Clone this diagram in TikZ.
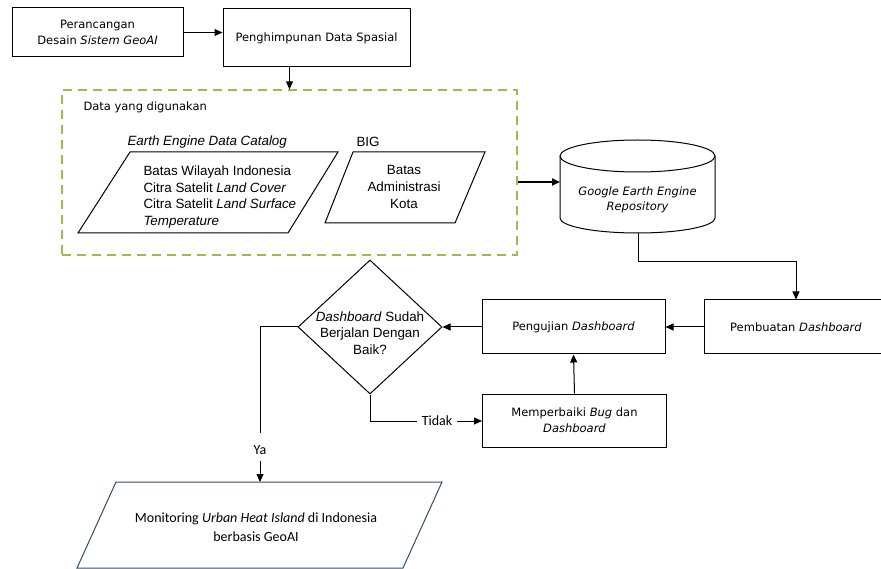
\documentclass[tikz,border=0pt]{standalone}
\usepackage{fontspec}
\setmainfont{DejaVu Sans}
\newfontfamily\arialf{Liberation Sans}
\newfontfamily\calf{Carlito}
\usetikzlibrary{arrows.meta,shapes.geometric,calc}
\definecolor{dgreen}{RGB}{150,190,80}
\definecolor{slateb}{RGB}{55,75,105}
\begin{document}
\begin{tikzpicture}[x=1pt,y=-1pt,line width=1pt,
  tah/.style={font=\fontsize{11.5}{15.5}\selectfont,align=center,inner sep=0pt},
  ari/.style={font=\arialf\fontsize{13.4}{16.7}\selectfont,inner sep=0pt},
  cal/.style={font=\calf\fontsize{14}{19}\selectfont,inner sep=0pt},
  procbox/.style={draw,minimum width=#1,inner sep=0pt,align=center,font=\fontsize{11.5}{16}\selectfont},
  arr/.style={-{Triangle[length=8pt,width=7pt]}}
]
\useasboundingbox (0,0) rectangle (881,569);

% top boxes
\node[procbox=171pt,minimum height=49pt] (b1) at (97.5,32.5) {Perancangan\\Desain \textit{Sistem GeoAI}};
\node[procbox=187pt,minimum height=58pt] (b2) at (316.5,38) {Penghimpunan Data Spasial};
\draw[arr] (b1.east) -- (b1.east -| b2.west);

% data area
\node[draw=dgreen,dash pattern=on 9pt off 6pt,line width=1.3pt,minimum width=455pt,minimum height=165pt,inner sep=0pt] (data) at (289.5,172.5) {};
\draw[arr] (b2.south -| data.north) -- (data.north);
\node[tah,anchor=west] (datalbl) at (83,107) {Data yang digunakan};

% parallelogram 1
\draw (130,152) -- (338,152) -- (288,233) -- (78,233) -- cycle;
\node[ari,anchor=west] (eelbl) at (127,142) {\itshape Earth Engine Data Catalog};
\node[ari,anchor=west,align=left] (p1) at (143,197) {Batas Wilayah Indonesia\\Citra Satelit \textit{Land Cover}\\Citra Satelit \textit{Land Surface}\\\textit{Temperature}};

% parallelogram 2
\draw (353,152) -- (485,152) -- (455,223) -- (325,223) -- cycle;
\node[ari,anchor=west] (biglbl) at (356,142) {BIG};
\node[ari,align=center] (p2) at (404,187) {Batas\\Administrasi\\Kota};

% cylinder
\draw (560,156) -- (560,218) arc[start angle=180,end angle=360,x radius=77.5pt,y radius=15pt] -- (715,156);
\draw (637.5,156) ellipse[x radius=77.5pt,y radius=16pt];
\node[tah] (gee) at (637.5,200) {\itshape Google Earth Engine\\\itshape Repository};
\coordinate (cylL) at (560,182);
\coordinate (cylB) at (638,233);
\draw[arr,line width=1.7pt] (data.east |- cylL) -- (cylL);

% dashboard boxes
\node[procbox=184pt,minimum height=54pt] (pemb) at (796,327) {Pembuatan \textit{Dashboard}};
\node[procbox=183pt,minimum height=54pt] (peng) at (573.5,327) {Pengujian \textit{Dashboard}};
\node[procbox=184pt,minimum height=53pt] (memp) at (574.5,420.5) {Memperbaiki \textit{Bug} dan\\\textit{Dashboard}};
\draw[arr] (cylB) -- ++(0,29) -| (pemb.north);
\draw[arr] (pemb.west) -- (peng.east);
\draw[arr] (memp.north) -- (peng.south);

% decision
\node[draw,diamond,minimum width=144pt,minimum height=134pt,inner sep=0pt] (dec) at (370,327) {};
\node[ari,align=center] (dectxt) at (370,333) {\textit{Dashboard} Sudah\\Berjalan Dengan\\Baik?};
\draw[arr] (peng.west) -- (dec.east);

\node[cal,inner xsep=4pt] (tidak) at (437,421) {Tidak};
\draw (dec.south) |- (tidak.west);
\draw[arr] (tidak.east) -- (tidak.east -| memp.west);

\node[cal] (ya) at (260,450) {Ya};
\coordinate (yaend) at (260,433);
\draw (dec.west) -| (yaend);

% output
\draw[slateb] (116,482) -- (442,482) -- (403,568) -- (77,568) -- cycle;
\node[cal,align=center] (out) at (256,527) {Monitoring \textit{Urban Heat Island} di Indonesia\\berbasis GeoAI};
\coordinate (outT) at (260,482);
\draw[arr] (ya.south) ++(0,6) -- (outT);
\end{tikzpicture}
\end{document}
